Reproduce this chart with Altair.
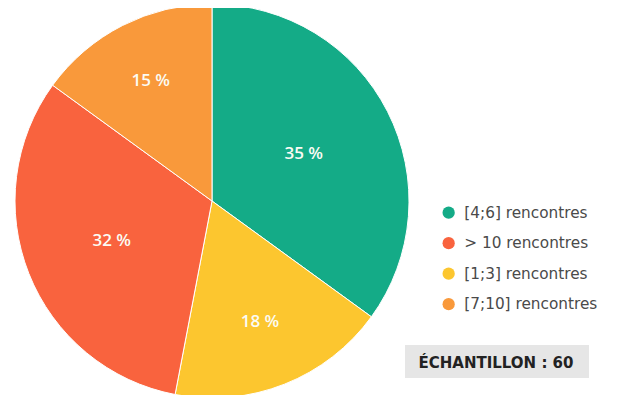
import altair as alt
import pandas as pd

categories = ["[4;6] rencontres", "[1;3] rencontres", "> 10 rencontres", "[7;10] rencontres"]
values = [35, 18, 32, 15]
slice_order = [1, 2, 3, 4]
legend_order = ["[4;6] rencontres", "> 10 rencontres", "[1;3] rencontres", "[7;10] rencontres"]
legend_colors = ["#14ab87", "#f9633e", "#fcc62f", "#f9993b"]
sample_text = ["ÉCHANTILLON : 60"]

df = pd.DataFrame({
    "cat": categories,
    "val": values,
    "ord": slice_order,
    "label": [f"{v} %" for v in values],
})

cx, cy, R = 204, 193, 197

base = alt.Chart(df).encode(
    theta=alt.Theta("val:Q", stack=True),
    order=alt.Order("ord:Q"),
    x=alt.value(cx),
    y=alt.value(cy),
)

pie = base.mark_arc(outerRadius=R, stroke="white", strokeWidth=1).encode(
    color=alt.Color(
        "cat:N",
        scale=alt.Scale(domain=legend_order, range=legend_colors),
        legend=alt.Legend(
            title=None,
            orient="none",
            legendX=433,
            legendY=197,
            symbolType="circle",
            symbolSize=150,
            symbolStrokeWidth=0,
            labelFontSize=15.3,
            labelFont="DejaVu Sans",
            labelColor="#4a4a4a",
            labelOffset=8,
            rowPadding=14.5,
            padding=0,
            labelLimit=300,
        ),
    )
)

labels = base.mark_text(
    font="Open Sans", fontSize=17, fontWeight=600, color="#fbfbf4"
).encode(
    text="label:N",
    radius=alt.Radius("val:Q", scale=alt.Scale(type="linear", domain=[15, 35], range=[135, 103], zero=False)),
)

box_df = pd.DataFrame({"t": sample_text})
box = alt.Chart(box_df).mark_rect(color="#e6e6e6").encode(
    x=alt.value(397), x2=alt.value(581), y=alt.value(337), y2=alt.value(370)
)
box_text = alt.Chart(box_df).mark_text(
    font="DejaVu Sans", fontSize=15, fontWeight="bold", color="#222222", align="center", baseline="middle"
).encode(x=alt.value(488), y=alt.value(355), text="t:N")

chart = alt.layer(pie, labels, box, box_text).properties(
    width=605, height=387, autosize=alt.AutoSizeParams(type="none"), padding=0
).configure_view(stroke=None)

chart.save("out.html", embed_options={"renderer": "svg", "actions": False})
